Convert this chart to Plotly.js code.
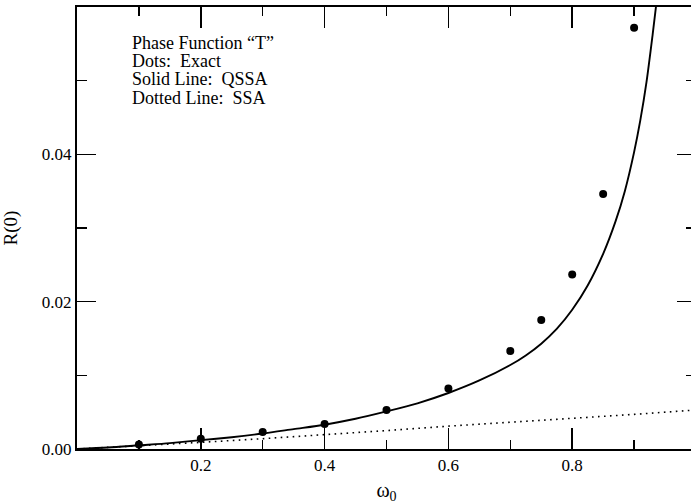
<!DOCTYPE html>
<html>
<head>
<meta charset="utf-8">
<script src="https://cdn.plot.ly/plotly-3.0.1.min.js"></script>
<style>
  html, body { margin: 0; padding: 0; overflow: hidden; background: #fff; }
  #chart { width: 696px; height: 504px; }
</style>
</head>
<body>
<div id="chart"></div>
<script>
// Exact solution (dots)
const omegaExact = [0.1, 0.2, 0.3, 0.4, 0.5, 0.6, 0.7, 0.75, 0.8, 0.85, 0.9];
const rExact = [0.0006, 0.0014, 0.0023, 0.0034, 0.0053, 0.0082, 0.0133, 0.0175, 0.0237, 0.0346, 0.0572];

// QSSA (solid line)
const omegaQssa = [0, 0.05, 0.1, 0.15, 0.2, 0.25, 0.3, 0.35, 0.4, 0.45, 0.5, 0.55, 0.6, 0.65,
                   0.7, 0.725, 0.75, 0.775, 0.8, 0.825, 0.85, 0.87, 0.885, 0.9, 0.91, 0.92, 0.93, 0.936];
const rQssa = [0, 0.0002, 0.0005, 0.0008, 0.0012, 0.0016, 0.0021, 0.0027, 0.0033, 0.0041, 0.0051, 0.0062, 0.0076, 0.0093,
               0.0114, 0.0127, 0.0143, 0.0163, 0.0189, 0.0222, 0.0265, 0.0309, 0.0350, 0.0403, 0.0446, 0.0498, 0.0563, 0.0605];

// SSA (dotted line)
const omegaSsa = [0, 0.1, 0.2, 0.3, 0.4, 0.5, 0.6, 0.7, 0.8, 0.9, 1.0];
const rSsa = [0, 0.0004, 0.0009, 0.0014, 0.0019, 0.0025, 0.0031, 0.0036, 0.0041, 0.0047, 0.0053];

// Axis ticks
const xTickVals = [0.2, 0.4, 0.6, 0.8];
const xTickText = ['0.2', '0.4', '0.6', '0.8'];
const yTickVals = [0, 0.02, 0.04];
const yTickText = ['0.00', '0.02', '0.04'];

// Caption lines
const captionLines = ['Phase Function \u201CT\u201D', 'Dots:\u00A0 Exact', 'Solid Line:\u00A0 QSSA', 'Dotted Line:\u00A0 SSA'];

const serif = 'Liberation Serif, Times New Roman, serif';

const traces = [
  {
    x: omegaSsa, y: rSsa, type: 'scatter', mode: 'lines',
    line: { color: '#000', width: 1.6, dash: '1.6px,4.4px' },
    hoverinfo: 'skip'
  },
  {
    x: omegaQssa, y: rQssa, type: 'scatter', mode: 'lines',
    line: { color: '#000', width: 1.9, shape: 'spline', smoothing: 0.8 },
    hoverinfo: 'skip'
  },
  {
    x: omegaExact, y: rExact, type: 'scatter', mode: 'markers',
    marker: { color: '#000', size: 8, symbol: 'circle' },
    hoverinfo: 'skip'
  }
];

const captionY = [0.919, 0.877, 0.836, 0.795];
const annotations = captionLines.map((t, i) => ({
  text: t, xref: 'paper', yref: 'paper', x: 0.085, y: captionY[i],
  xanchor: 'left', yanchor: 'middle', showarrow: false,
  font: { family: serif, size: 18, color: '#000' }
}));

const layout = {
  width: 696, height: 504,
  margin: { l: 77, r: 0, t: 7, b: 55 },
  paper_bgcolor: '#fff', plot_bgcolor: '#fff',
  showlegend: false,
  font: { family: serif, size: 17, color: '#000' },
  xaxis: {
    range: [0, 1.0],
    tickvals: xTickVals, ticktext: xTickText,
    ticks: 'inside', ticklen: 21, tickwidth: 1.5, tickcolor: '#000',
    minor: { dtick: 0.1, tick0: 0, ticks: 'inside', ticklen: 9, tickwidth: 1.5, tickcolor: '#000' },
    showline: true, linecolor: '#000', linewidth: 2, mirror: 'allticks',
    showgrid: false, zeroline: false,
    tickfont: { family: serif, size: 17 },
    title: { text: '\u03C9<sub>0</sub>', font: { family: serif, size: 20 }, standoff: 15 }
  },
  yaxis: {
    range: [0, 0.06],
    tickvals: yTickVals, ticktext: yTickText,
    ticks: 'inside', ticklen: 19, tickwidth: 1.5, tickcolor: '#000',
    minor: { dtick: 0.01, tick0: 0, ticks: 'inside', ticklen: 10, tickwidth: 1.5, tickcolor: '#000' },
    showline: true, linecolor: '#000', linewidth: 2, mirror: 'allticks',
    showgrid: false, zeroline: false,
    tickfont: { family: serif, size: 17 },
    title: { text: 'R(0)', font: { family: serif, size: 19 }, standoff: 19 }
  },
  annotations: annotations
};

Plotly.newPlot('chart', traces, layout, { staticPlot: true, displayModeBar: false });
</script>
</body>
</html>
